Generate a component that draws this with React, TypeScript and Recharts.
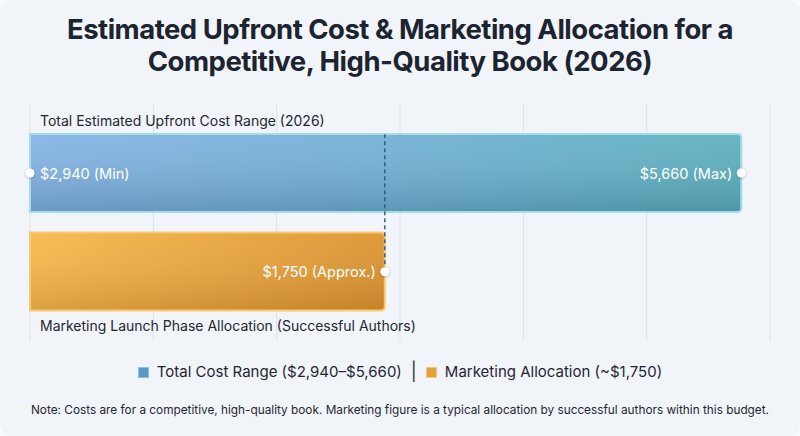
import React from "react";
import { BarChart, Bar, XAxis, YAxis, CartesianGrid, ReferenceLine } from "recharts";

const FONT = "Inter, 'Noto Sans', sans-serif";

const titleLines = [
  "Estimated Upfront Cost & Marketing Allocation for a",
  "Competitive, High-Quality Book (2026)",
];
const rowLabels = [
  "Total Estimated Upfront Cost Range (2026)",
  "Marketing Launch Phase Allocation (Successful Authors)",
];
const totalRange: [number, number] = [2940, 5660];
const marketingValue = 1750;
const valueLabels = ["$2,940 (Min)", "$5,660 (Max)", "$1,750 (Approx.)"];
const legendLabels = ["Total Cost Range ($2,940\u2013$5,660)", "Marketing Allocation (~$1,750)"];
const noteText =
  "Note: Costs are for a competitive, high-quality book. Marketing figure is a typical allocation by successful authors within this budget.";
const gridTicks = [0, 1, 2, 3, 4, 5, 6];

const data = [
  { name: rowLabels[0], total: totalRange, marketing: null },
  { name: rowLabels[1], total: null, marketing: marketingValue },
];

const BAR = 78;
const R = 4;

const barPath = (x: number, y: number, w: number, h: number) =>
  `M${x},${y} H${x + w - R} Q${x + w},${y} ${x + w},${y + R} V${y + h - R} Q${x + w},${y + h} ${x + w - R},${y + h} H${x} Z`;

const Dot = ({ cx, cy }: { cx: number; cy: number }) => (
  <circle cx={cx} cy={cy} r={4.5} fill="#ffffff" filter="url(#dotShadow)" />
);

const TotalShape = (p: any) => {
  const { x, y, width, height } = p;
  if (!(width > 0) || !(height > 0)) return null;
  const cy = y + height / 2;
  const d = barPath(x, y, width, height);
  return (
    <g>
      <defs>
        <linearGradient id="gTotal" x1="0" y1="0" x2="1" y2="0">
          <stop offset="0%" stopColor="#84b3e5" />
          <stop offset="50%" stopColor="#72b1d5" />
          <stop offset="100%" stopColor="#5cb0be" />
        </linearGradient>
        <linearGradient id="gShade" x1="0" y1="0" x2="0" y2="1">
          <stop offset="0%" stopColor="#ffffff" stopOpacity={0.06} />
          <stop offset="100%" stopColor="#0a2a40" stopOpacity={0.2} />
        </linearGradient>
        <filter id="dotShadow" x="-50%" y="-50%" width="200%" height="200%">
          <feDropShadow dx="0" dy="0.6" stdDeviation="1" floodColor="#000" floodOpacity="0.35" />
        </filter>
      </defs>
      <path d={d} fill="url(#gTotal)" />
      <path d={d} fill="url(#gShade)" stroke="#a4dde8" strokeWidth={2} />
      <text x={x + 10} y={y - 14} dominantBaseline="central" fill="#1f2733" fontSize={14} fontFamily={FONT}>
        {rowLabels[0]}
      </text>
      <text x={x + 10} y={cy} dominantBaseline="central" fill="#ffffff" fontSize={14.5} fontFamily={FONT}>
        {valueLabels[0]}
      </text>
      <text x={x + width - 9} y={cy} textAnchor="end" dominantBaseline="central" fill="#ffffff" fontSize={14.5} fontFamily={FONT}>
        {valueLabels[1]}
      </text>
      <Dot cx={x} cy={cy} />
      <Dot cx={x + width} cy={cy} />
    </g>
  );
};

const MarketingShape = (p: any) => {
  const { x, y, width, height } = p;
  if (!(width > 0) || !(height > 0)) return null;
  const cy = y + height / 2;
  const d = barPath(x, y, width, height);
  return (
    <g>
      <defs>
        <linearGradient id="gMkt" x1="0" y1="0" x2="1" y2="0">
          <stop offset="0%" stopColor="#f8b84c" />
          <stop offset="100%" stopColor="#dc9430" />
        </linearGradient>
        <linearGradient id="gMktShade" x1="0" y1="0" x2="0" y2="1">
          <stop offset="0%" stopColor="#ffffff" stopOpacity={0.05} />
          <stop offset="100%" stopColor="#5a3000" stopOpacity={0.18} />
        </linearGradient>
      </defs>
      <path d={d} fill="url(#gMkt)" />
      <path d={d} fill="url(#gMktShade)" stroke="#f7c977" strokeWidth={2} />
      <text x={x + 10} y={y + height + 15} dominantBaseline="central" fill="#1f2733" fontSize={14} fontFamily={FONT}>
        {rowLabels[1]}
      </text>
      <text x={x + width - 9} y={cy} textAnchor="end" dominantBaseline="central" fill="#ffffff" fontSize={14.5} fontFamily={FONT}>
        {valueLabels[2]}
      </text>
    </g>
  );
};

const DashShape = (p: any) => {
  const top = Math.min(p.y1, p.y2) - BAR / 2;
  const bottom = Math.max(p.y1, p.y2);
  return (
    <g>
      <line x1={p.x1} y1={top} x2={p.x2} y2={bottom} stroke="#2c5a7a" strokeWidth={1.4} strokeDasharray="4 3" />
      <circle cx={p.x2} cy={bottom} r={4.5} fill="#ffffff" filter="url(#dotShadow)" />
    </g>
  );
};

const Swatch = ({ color, edge }: { color: string; edge: string }) => (
  <span
    style={{
      display: "inline-block",
      width: 9,
      height: 9,
      background: color,
      border: `1px solid ${edge}`,
      marginRight: 8,
    }}
  />
);

export default function App() {
  return (
    <div style={{ position: "absolute", left: 0, top: 0, width: 800, height: 436, background: "#f8fafc", fontFamily: FONT, overflow: "hidden" }}>
      <div style={{ position: "absolute", left: 0, top: 0, width: 800, height: 436, borderRadius: 12, background: "#f1f4f8" }} />
      <div
        style={{
          position: "absolute",
          left: 0,
          top: 13,
          width: 800,
          textAlign: "center",
          fontSize: 27.5,
          fontWeight: 700,
          lineHeight: "32px",
          color: "#1b2430",
          letterSpacing: -0.5,
        }}
      >
        {titleLines.map((t) => (
          <div key={t}>{t}</div>
        ))}
      </div>
      <div style={{ position: "absolute", left: 0, top: 0 }}>
        <BarChart width={800} height={436} data={data} layout="vertical" margin={{ top: 104, right: 30, bottom: 95, left: 30 }}>
          <XAxis xAxisId="grid" type="number" domain={[0, 6]} ticks={gridTicks} allowDataOverflow hide />
          <XAxis xAxisId="t" type="number" domain={[2940, 5770]} hide />
          <XAxis xAxisId="m" type="number" domain={[0, 3650]} hide />
          <YAxis
            yAxisId="t"
            type="category"
            dataKey="name"
            width={0}
            tick={false}
            tickLine={false}
            padding={{ top: 20, bottom: 20 }}
            axisLine={{ stroke: "#2b3440", strokeWidth: 1.5 }}
          />
          <YAxis yAxisId="m" type="category" dataKey="name" hide padding={{ top: 20, bottom: 20 }} />
          <CartesianGrid xAxisId="grid" yAxisId="t" horizontal={false} stroke="#dde3ea" strokeWidth={1} />
          <Bar dataKey="total" xAxisId="t" yAxisId="t" barSize={BAR} shape={TotalShape} isAnimationActive={false} />
          <Bar dataKey="marketing" xAxisId="m" yAxisId="m" barSize={BAR} shape={MarketingShape} isAnimationActive={false} />
          <ReferenceLine
            xAxisId="m"
            yAxisId="m"
            segment={[
              { x: marketingValue, y: rowLabels[0] },
              { x: marketingValue, y: rowLabels[1] },
            ]}
            shape={DashShape}
          />
        </BarChart>
      </div>
      <div
        style={{
          position: "absolute",
          left: 0,
          top: 361,
          width: 800,
          display: "flex",
          justifyContent: "center",
          alignItems: "center",
          fontSize: 15,
          lineHeight: "22px",
          color: "#1f2733",
        }}
      >
        <Swatch color="#5a98cc" edge="#8cbfe2" />
        <span>{legendLabels[0]}</span>
        <span style={{ margin: "0 9px", fontSize: 18, color: "#2b3440" }}>|</span>
        <Swatch color="#e3a23c" edge="#f3c678" />
        <span>{legendLabels[1]}</span>
      </div>
      <div
        style={{
          position: "absolute",
          left: 0,
          top: 402,
          width: 800,
          textAlign: "center",
          fontSize: 11.8,
          lineHeight: "16px",
          color: "#1f2733",
        }}
      >
        {noteText}
      </div>
    </div>
  );
}
